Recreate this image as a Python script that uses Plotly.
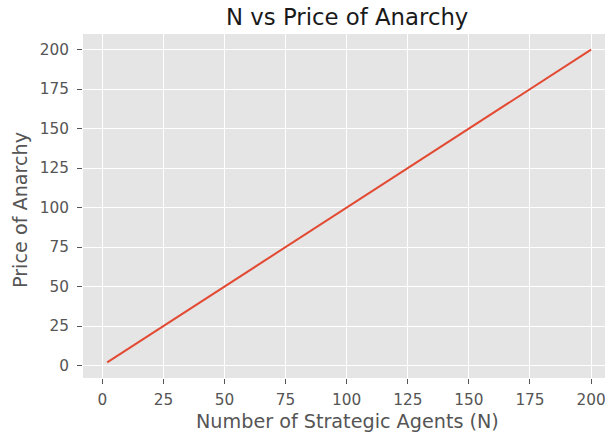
import plotly.graph_objects as go

agents_n = [2, 25, 50, 75, 100, 125, 150, 175, 200]
price_of_anarchy = [2, 25, 50, 75, 100, 125, 150, 175, 200]
tick_vals = [0, 25, 50, 75, 100, 125, 150, 175, 200]

W, H = 605, 435
L, R, T, B = 83, 0, 34, 57

fig = go.Figure()
fig.add_trace(go.Scatter(x=agents_n, y=price_of_anarchy, mode="lines",
                         line=dict(color="#E24A33", width=2)))

font = "DejaVu Sans"
TICK = 15.3
fig.update_layout(
    width=W, height=H,
    margin=dict(l=L, r=R, t=T, b=B),
    paper_bgcolor="white", plot_bgcolor="#E5E5E5",
    showlegend=False,
    font=dict(family=font, color="#555555", size=TICK),
)
axis_common = dict(tickvals=tick_vals, showgrid=True, gridcolor="white",
                   gridwidth=1, zeroline=False, ticks="outside", ticklen=5,
                   tickcolor="#555555", tickwidth=1,
                   tickfont=dict(family=font, size=TICK, color="#555555"),
                   showline=False, ticklabeloverflow="allow")
fig.update_xaxes(range=[-7.9, 205.7], ticklabelstandoff=3, **axis_common)
fig.update_yaxes(range=[-7.9, 209.9], ticklabelstandoff=5, **axis_common)

# convert pixel coords to paper coords of plot area
pw, ph = W - L - R, H - T - B
def px(x): return (x - L) / pw
def py(y): return (H - B - y) / ph

fig.add_annotation(text="N vs Price of Anarchy", x=px(347), y=py(17),
                   xref="paper", yref="paper", showarrow=False,
                   font=dict(family=font, size=22.8, color="#1a1a1a"),
                   xanchor="center", yanchor="middle")
fig.add_annotation(text="Number of Strategic Agents (N)", x=px(347.5), y=py(421),
                   xref="paper", yref="paper", showarrow=False,
                   font=dict(family=font, size=19.2, color="#555555"),
                   xanchor="center", yanchor="middle")
fig.add_annotation(text="Price of Anarchy", x=px(20), y=py(210),
                   xref="paper", yref="paper", showarrow=False, textangle=-90,
                   font=dict(family=font, size=19.2, color="#555555"),
                   xanchor="center", yanchor="middle")

fig.write_html("out.html", config={"displayModeBar": False},
               post_script="document.body.style.margin='0';document.body.style.overflow='hidden';")
